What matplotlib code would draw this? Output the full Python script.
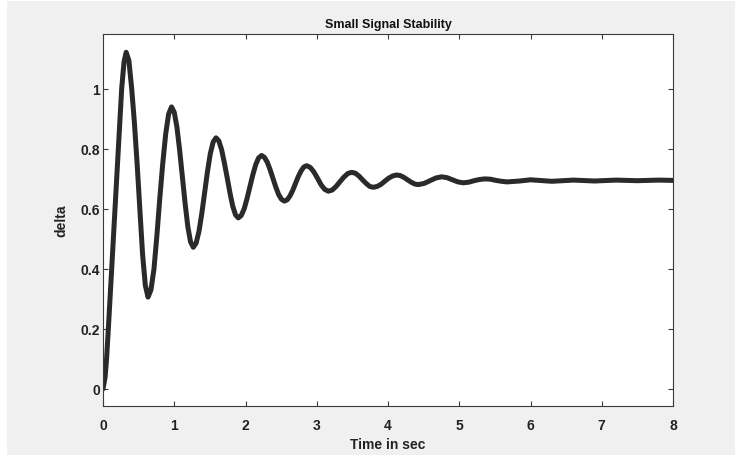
"""Small-signal stability response (rotor angle delta vs time), MATLAB-style figure.

Writes out.png (735x456).
"""
import matplotlib

matplotlib.use("Agg")
import matplotlib.pyplot as plt
from matplotlib.patches import Rectangle

# values
TIME = [
    0.000, 0.030, 0.050, 0.075, 0.122, 0.168, 0.215, 0.262, 0.295,
    0.325, 0.363, 0.402, 0.440, 0.479, 0.517, 0.555, 0.594, 0.632,
    0.673, 0.715, 0.756, 0.797, 0.838, 0.880, 0.921, 0.962,
    1.000, 1.038, 1.076, 1.115, 1.153, 1.191, 1.229, 1.267,
    1.307, 1.347, 1.387, 1.427, 1.466, 1.506, 1.546, 1.586,
    1.625, 1.664, 1.703, 1.743, 1.782, 1.821, 1.860, 1.899,
    1.940, 1.981, 2.021, 2.062, 2.103, 2.144, 2.184, 2.225,
    2.265, 2.305, 2.345, 2.385, 2.425, 2.465, 2.505, 2.545,
    2.584, 2.624, 2.663, 2.702, 2.741, 2.781, 2.820, 2.859,
    2.910, 2.960, 3.011, 3.062, 3.112, 3.163,
    3.218, 3.272, 3.327, 3.381, 3.436, 3.490,
    3.541, 3.591, 3.642, 3.693, 3.743, 3.794,
    3.849, 3.903, 3.958, 4.013, 4.067, 4.122,
    4.173, 4.223, 4.274, 4.325, 4.375, 4.426,
    4.508, 4.590, 4.671, 4.753,
    4.829, 4.905, 4.981, 5.057,
    5.133, 5.208, 5.284, 5.360,
    5.438, 5.515, 5.593, 5.670,
    5.850, 6.000, 6.300, 6.600, 6.900, 7.200, 7.500, 7.800, 8.000,
]
DELTA = [
    0.000, 0.040, 0.100, 0.200, 0.400, 0.600, 0.800, 1.000, 1.090,
    1.122, 1.095, 1.003, 0.890, 0.750, 0.600, 0.450, 0.345, 0.306,
    0.330, 0.399, 0.510, 0.635, 0.750, 0.850, 0.916, 0.940,
    0.922, 0.872, 0.795, 0.706, 0.617, 0.540, 0.490, 0.472,
    0.486, 0.525, 0.585, 0.655, 0.724, 0.784, 0.823, 0.837,
    0.827, 0.798, 0.754, 0.704, 0.653, 0.609, 0.580, 0.570,
    0.578, 0.600, 0.634, 0.674, 0.714, 0.748, 0.770, 0.778,
    0.772, 0.756, 0.731, 0.702, 0.673, 0.648, 0.632, 0.626,
    0.630, 0.643, 0.662, 0.685, 0.708, 0.727, 0.740, 0.744,
    0.738, 0.723, 0.702, 0.680, 0.665, 0.659,
    0.663, 0.675, 0.691, 0.706, 0.718, 0.722,
    0.719, 0.710, 0.697, 0.685, 0.675, 0.672,
    0.675, 0.682, 0.693, 0.703, 0.710, 0.713,
    0.711, 0.705, 0.697, 0.689, 0.683, 0.681,
    0.685, 0.694, 0.703, 0.707,
    0.704, 0.697, 0.690, 0.687,
    0.689, 0.694, 0.698, 0.700,
    0.699, 0.695, 0.692, 0.690,
    0.693, 0.697, 0.692, 0.696, 0.693, 0.696, 0.694, 0.696, 0.695,
]
X_TICKS = [0, 1, 2, 3, 4, 5, 6, 7, 8]
Y_TICKS = [0, 0.2, 0.4, 0.6, 0.8, 1.0]
Y_TICK_LABELS = ["0", "0.2", "0.4", "0.6", "0.8", "1"]

BG = "#f0f0f0"
INK = "#2a2a2a"
AXIS = "#3a3a3a"
NARROW = ["Liberation Sans Narrow", "Liberation Sans", "DejaVu Sans"]
WIDE = ["Liberation Sans", "DejaVu Sans"]

W, H = 735, 456
fig = plt.figure(figsize=(W / 100, H / 100), dpi=100, facecolor=BG)
# thin white margin of the original screenshot
fig.patches.append(Rectangle((0, 0), 7 / W, 1, transform=fig.transFigure,
                             facecolor="white", edgecolor="none", zorder=-1))
fig.patches.append(Rectangle((0, 1 - 2 / H), 1, 2 / H, transform=fig.transFigure,
                             facecolor="white", edgecolor="none", zorder=-1))

ax = fig.add_axes([103 / W, 1 - 407 / H, 570 / W, 372 / H])
ax.set_facecolor("white")
ax.plot(TIME, DELTA, color=INK, lw=3.6, solid_joinstyle="round", solid_capstyle="round")

ax.set_xlim(0, 8)
ax.set_ylim(-0.057, 1.183)
ax.set_xticks(X_TICKS)
ax.set_yticks(Y_TICKS, Y_TICK_LABELS)
ax.tick_params(direction="in", length=3.6, width=0.8, color=AXIS,
               top=True, right=True, labelsize=10, labelcolor="#222222")
ax.tick_params(axis="x", pad=8.5)
ax.tick_params(axis="y", pad=2.2)
for lbl in ax.get_xticklabels() + ax.get_yticklabels():
    lbl.set_family(NARROW)
    lbl.set_fontweight("bold")
for s in ax.spines.values():
    s.set_color(AXIS)
    s.set_linewidth(0.8)

ax.set_title("Small Signal Stability", family=NARROW, fontweight="bold",
             fontsize=9, color="#111111", pad=5.2)
ax.set_xlabel("Time in sec", family=NARROW, fontweight="bold", fontsize=10, color="#222222")
ax.set_ylabel("delta", family=WIDE, fontweight="bold", fontsize=10, color="#222222")
ax.xaxis.set_label_coords(0.5, -0.083)
ax.yaxis.set_label_coords(-0.061, 0.5)

fig.savefig("out.png", dpi=100, facecolor=fig.get_facecolor())
